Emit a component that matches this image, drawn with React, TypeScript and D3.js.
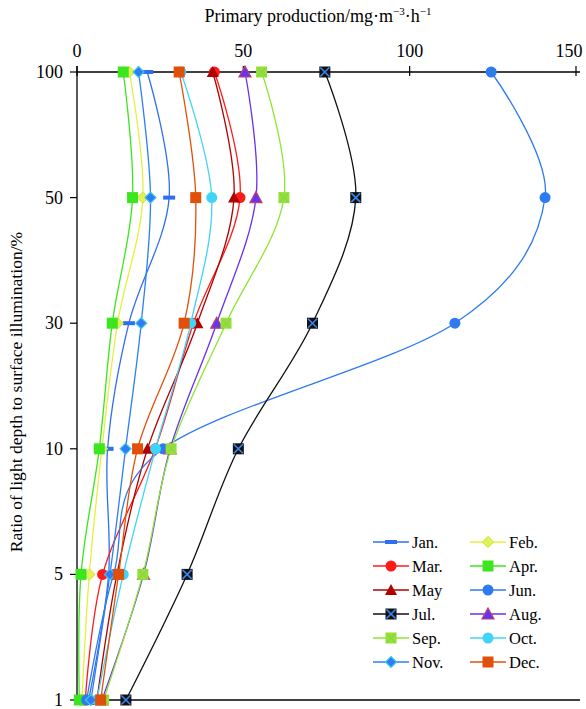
import * as d3 from 'd3'

const levels = ['100', '50', '30', '10', '5', '1']
const xTicks = [0, 50, 100, 150]

const months = ['Jan.', 'Feb.', 'Mar.', 'Apr.', 'May', 'Jun.', 'Jul.', 'Aug.', 'Sep.', 'Oct.', 'Nov.', 'Dec.']

// values per level, 100% -> 1%
const jan = [21.1, 27.7, 15.6, 9.2, 9.5, 3.5]
const feb = [15.7, 19.8, 12.2, 7.5, 3.7, 1.5]
const mar = [41.3, 49.0, 35.0, 23.5, 7.7, 2.5]
const apr = [13.9, 16.7, 10.6, 6.7, 1.2, 0.7]
const may = [40.8, 47.2, 36.2, 21.2, 12.0, 6.0]
const jun = [124.5, 140.7, 113.6, 25.9, 11.0, 2.9]
const jul = [74.5, 83.8, 70.8, 48.5, 33.1, 14.7]
const aug = [50.5, 53.8, 42.0, 28.0, 20.0, 7.5]
const sep = [55.5, 62.2, 44.8, 28.3, 19.8, 8.0]
const oct = [31.2, 40.5, 34.2, 23.6, 13.9, 6.0]
const nov = [18.5, 22.1, 19.3, 14.6, 9.9, 4.2]
const dec = [30.7, 35.7, 32.2, 18.2, 12.5, 7.1]

const values = [jan, feb, mar, apr, may, jun, jul, aug, sep, oct, nov, dec]

type Style = { line: string; fill: string; stroke?: string; shape: string }
const styles: Style[] = [
  { line: '#2F6FEF', fill: '#2F6FEF', shape: 'dash' },
  { line: '#E6F03C', fill: '#E2F25A', stroke: '#D8E850', shape: 'diamond' },
  { line: '#FF1A1A', fill: '#FF1A1A', shape: 'circle' },
  { line: '#3CE61E', fill: '#3CE61E', shape: 'square' },
  { line: '#B00000', fill: '#B00000', shape: 'triangle' },
  { line: '#2E7BF0', fill: '#2E7BF0', shape: 'circle' },
  { line: '#111111', fill: '#111111', stroke: '#3A86F0', shape: 'xsquare' },
  { line: '#6A2FF0', fill: '#6633EE', stroke: '#C04070', shape: 'triangle' },
  { line: '#8CE632', fill: '#8CE632', stroke: '#9ACD50', shape: 'xsquare' },
  { line: '#40D4F8', fill: '#40D4F8', shape: 'circle' },
  { line: '#2E7CF6', fill: '#2E7CF6', stroke: '#3CC8E8', shape: 'diamond' },
  { line: '#E0500A', fill: '#E0500A', shape: 'square' },
]

const width = 586
const height = 709
const marginLeft = 77
const marginRight = 10
const marginTop = 72
const marginBottom = 9
const font = "'Liberation Serif', 'DejaVu Serif', serif"

const Marker = ({ s, cx, cy }: { s: Style; cx: number; cy: number }) => {
  if (s.shape === 'dash') return <rect x={cx - 6} y={cy - 2} width={12} height={4} fill={s.fill} />
  if (s.shape === 'circle') return <circle cx={cx} cy={cy} r={5.5} fill={s.fill} />
  if (s.shape === 'square') return <rect x={cx - 5.5} y={cy - 5.5} width={11} height={11} fill={s.fill} />
  if (s.shape === 'diamond')
    return (
      <path
        d={`M${cx},${cy - 5.5}L${cx + 5.5},${cy}L${cx},${cy + 5.5}L${cx - 5.5},${cy}Z`}
        fill={s.fill}
        stroke={s.stroke}
        strokeWidth={1.2}
      />
    )
  if (s.shape === 'triangle')
    return (
      <path
        d={`M${cx},${cy - 6}L${cx + 6},${cy + 5}L${cx - 6},${cy + 5}Z`}
        fill={s.fill}
        stroke={s.stroke}
        strokeWidth={1.2}
      />
    )
  // square with a cross
  return (
    <g>
      <rect x={cx - 5.5} y={cy - 5.5} width={11} height={11} fill={s.fill} />
      <path
        d={`M${cx - 4.5},${cy - 4.5}L${cx + 4.5},${cy + 4.5}M${cx + 4.5},${cy - 4.5}L${cx - 4.5},${cy + 4.5}`}
        stroke={s.stroke}
        strokeWidth={1.6}
      />
    </g>
  )
}

export default function App() {
  const x = d3.scaleLinear().domain([0, 150]).range([marginLeft, width - marginRight])
  const y = d3.scalePoint().domain(levels).range([marginTop, height - marginBottom])

  const line = d3
    .line<[number, string]>()
    .curve(d3.curveCardinal.tension(0))
    .x((d) => x(d[0]))
    .y((d) => y(d[1]) as number)

  const legendX = [373, 470]
  const legendY0 = 542
  const legendStep = 24

  return (
    <svg
      width={width}
      height={height}
      style={{ position: 'absolute', left: 0, top: 0, background: '#fff', fontFamily: font }}
    >
      <text x={318} y={22} textAnchor="middle" fontSize={18}>
        Primary  production/mg·m
        <tspan dy={-7} fontSize={11}>−3</tspan>
        <tspan dy={7}>·h</tspan>
        <tspan dy={-7} fontSize={11}>−1</tspan>
      </text>
      <text transform="translate(22,392) rotate(-90)" textAnchor="middle" fontSize={17.6}>
        Ratio of light depth to surface illumination/%
      </text>

      {/* top x axis */}
      <line x1={marginLeft} x2={x(150) + 4} y1={marginTop} y2={marginTop} stroke="#000" strokeWidth={1.3} />
      {xTicks.map((t) => (
        <g key={t}>
          <line x1={x(t)} x2={x(t)} y1={marginTop - 6} y2={marginTop + 4} stroke="#000" strokeWidth={1.2} />
          <text x={t === 150 ? x(t) - 7 : x(t)} y={marginTop - 15} textAnchor="middle" fontSize={18}>
            {t}
          </text>
        </g>
      ))}
      {/* left y axis */}
      <line x1={marginLeft} x2={marginLeft} y1={marginTop - 6} y2={height - marginBottom} stroke="#000" strokeWidth={1.3} />
      <line x1={marginLeft} x2={x(150) + 4} y1={height - marginBottom} y2={height - marginBottom} stroke="#000" strokeWidth={1.3} />
      {levels.map((l) => (
        <g key={l}>
          <line x1={marginLeft - 7} x2={marginLeft} y1={y(l)} y2={y(l)} stroke="#000" strokeWidth={1.2} />
          <text x={marginLeft - 14} y={(y(l) as number) + 6} textAnchor="end" fontSize={18}>
            {l}
          </text>
        </g>
      ))}

      {values.map((vals, i) => (
        <path
          key={months[i]}
          d={line(vals.map((v, j) => [v, levels[j]] as [number, string])) || ''}
          fill="none"
          stroke={styles[i].line}
          strokeWidth={1.3}
        />
      ))}
      {values.map((vals, i) => (
        <g key={months[i]}>
          {vals.map((v, j) => (
            <Marker key={j} s={styles[i]} cx={x(v)} cy={y(levels[j]) as number} />
          ))}
        </g>
      ))}

      {months.map((m, i) => {
        const lx = legendX[i % 2]
        const ly = legendY0 + Math.floor(i / 2) * legendStep
        return (
          <g key={m}>
            <line x1={lx} x2={lx + 36} y1={ly} y2={ly} stroke={styles[i].line} strokeWidth={1.3} />
            <Marker s={styles[i]} cx={lx + 18} cy={ly} />
            <text x={lx + 39} y={ly + 6} fontSize={16.5}>
              {m}
            </text>
          </g>
        )
      })}
    </svg>
  )
}
